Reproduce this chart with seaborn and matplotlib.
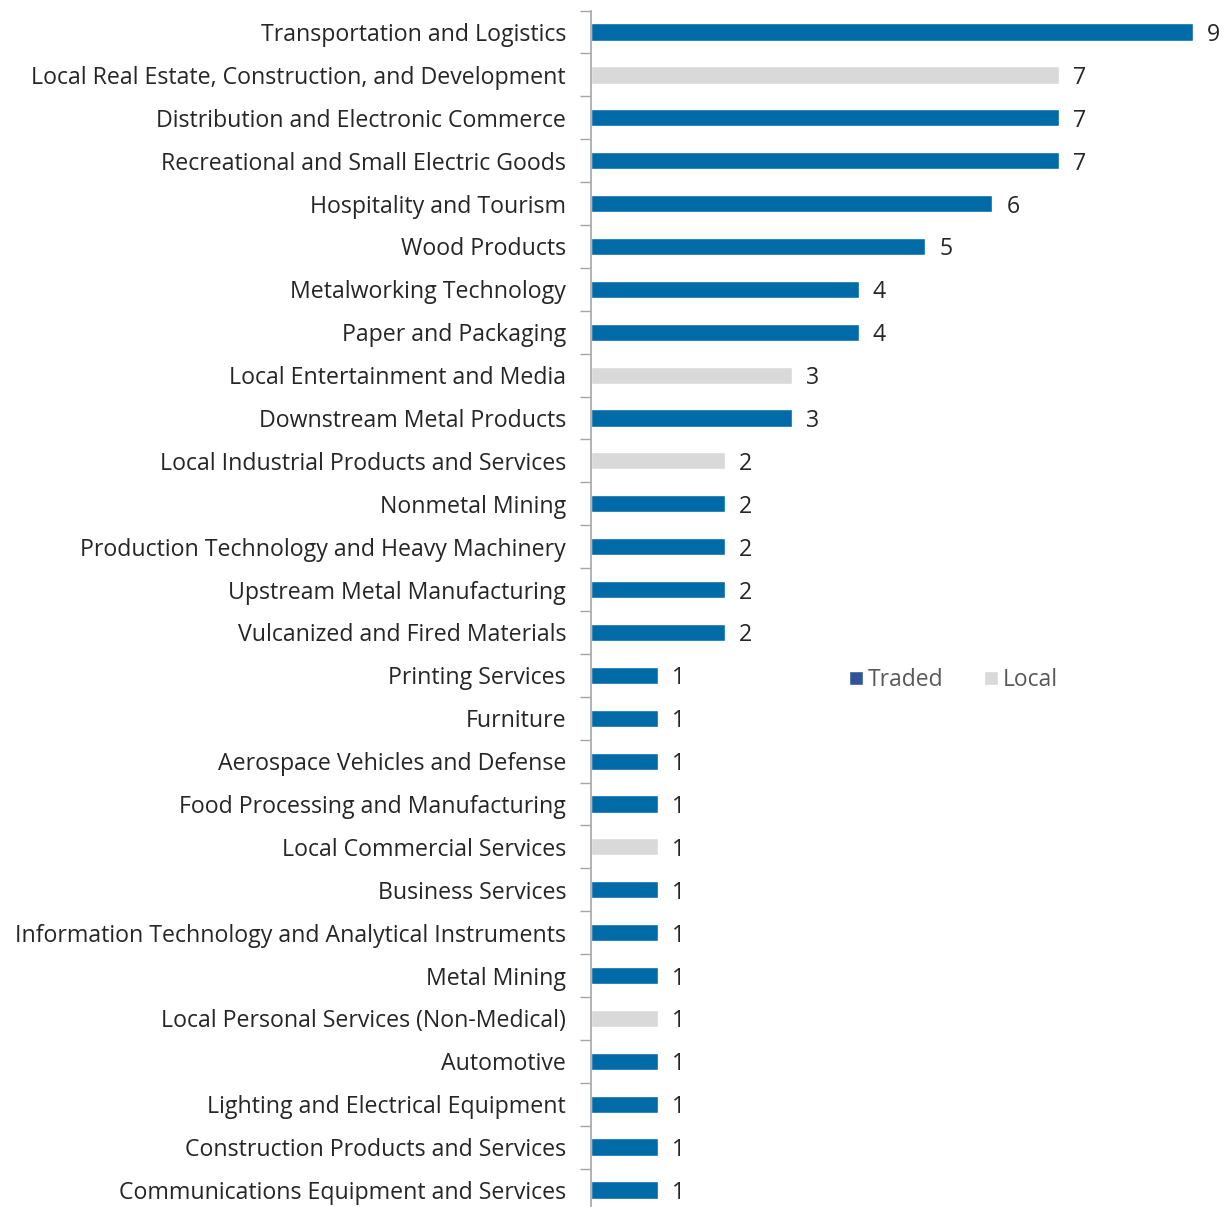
import matplotlib.pyplot as plt
import seaborn as sns
import pandas as pd
from matplotlib.patches import Patch

sns.set_theme(style="white")
plt.rcParams['font.family'] = ['Open Sans', 'DejaVu Sans']

clusters = [
    'Transportation and Logistics',
    'Local Real Estate, Construction, and Development',
    'Distribution and Electronic Commerce',
    'Recreational and Small Electric Goods',
    'Hospitality and Tourism',
    'Wood Products',
    'Metalworking Technology',
    'Paper and Packaging',
    'Local Entertainment and Media',
    'Downstream Metal Products',
    'Local Industrial Products and Services',
    'Nonmetal Mining',
    'Production Technology and Heavy Machinery',
    'Upstream Metal Manufacturing',
    'Vulcanized and Fired Materials',
    'Printing Services',
    'Furniture',
    'Aerospace Vehicles and Defense',
    'Food Processing and Manufacturing',
    'Local Commercial Services',
    'Business Services',
    'Information Technology and Analytical Instruments',
    'Metal Mining',
    'Local Personal Services (Non-Medical)',
    'Automotive',
    'Lighting and Electrical Equipment',
    'Construction Products and Services',
    'Communications Equipment and Services',
]
counts = [9, 7, 7, 7, 6, 5, 4, 4, 3, 3, 2, 2, 2, 2, 2,
          1, 1, 1, 1, 1, 1, 1, 1, 1, 1, 1, 1, 1]
cluster_type = ['Traded', 'Local', 'Traded', 'Traded', 'Traded', 'Traded', 'Traded',
                'Traded', 'Local', 'Traded', 'Local', 'Traded', 'Traded', 'Traded',
                'Traded', 'Traded', 'Traded', 'Traded', 'Traded', 'Local', 'Traded',
                'Traded', 'Traded', 'Local', 'Traded', 'Traded', 'Traded', 'Traded']

bar_colors = {'Traded': '#006BA6', 'Local': '#D9D9D9'}
legend_colors = {'Traded': '#2F5597', 'Local': '#D9D9D9'}

df = pd.DataFrame({'cluster': clusters, 'count': counts, 'type': cluster_type})

fig = plt.figure(figsize=(12.27, 12.07), dpi=100)
ax = fig.add_axes([591 / 1227, 1 - 1211.4 / 1207, 602 / 1227, 1200.8 / 1207])

sns.barplot(data=df, x='count', y='cluster', hue='type', order=clusters,
            palette=bar_colors, dodge=False, width=0.4, ax=ax, legend=False,
            saturation=1)

for i, v in enumerate(counts):
    ax.text(v + 0.21, i, str(v), va='center_baseline', ha='left', fontsize=16.7,
            color='#262626', clip_on=False)

ax.set_xlim(0, 9)
ax.set_ylim(len(clusters) - 0.5, -0.5)
ax.set_xlabel('')
ax.set_ylabel('')
ax.set_xticks([])
ax.tick_params(axis='y', which='major', length=0, labelsize=16.7,
               labelcolor='#262626', pad=18)
ax.set_yticks([i + 0.5 for i in range(-1, len(clusters))], minor=True)
ax.tick_params(axis='y', which='minor', left=True, length=8, width=1,
               color='#A6A6A6')
for side in ['top', 'right', 'bottom']:
    ax.spines[side].set_visible(False)
ax.spines['left'].set_color('#A6A6A6')
ax.spines['left'].set_linewidth(1.2)

handles = [Patch(facecolor=legend_colors[k], label=k) for k in ['Traded', 'Local']]
fig.legend(handles=handles, loc='center', bbox_to_anchor=(0.777, 1 - 680 / 1207),
           ncol=2, frameon=False, fontsize=16.5, handlelength=0.6, handleheight=0.6,
           handletextpad=0.2, columnspacing=1.8, labelcolor='#595959')

fig.savefig('out.png', dpi=100)
